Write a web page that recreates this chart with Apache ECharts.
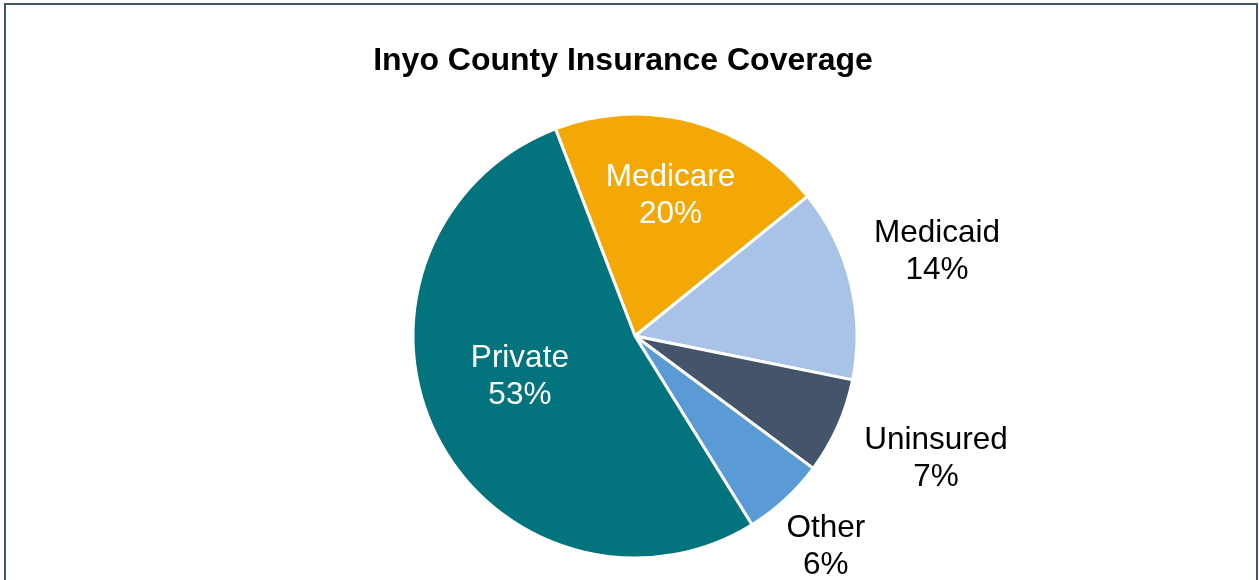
<!DOCTYPE html>
<html>
<head>
<meta charset="utf-8">
<script src="https://cdn.jsdelivr.net/npm/echarts@6/dist/echarts.min.js"></script>
<style>
html,body{margin:0;padding:0;background:#fff;}
#chart{width:1259px;height:580px;}
</style>
</head>
<body>
<div id="chart"></div>
<script>
const titleText = 'Inyo County Insurance Coverage';
const categories = ['Medicare', 'Medicaid', 'Uninsured', 'Other', 'Private'];
const values = [20, 14, 7, 6, 53];
const colors = ['#F4A806', '#A9C2E7', '#44546A', '#5B9BD5', '#03747D'];
const insideLabels = ['Medicare', 'Private'];

const labelShift = {
  Medicare: [6, -30],
  Private: [-13, -10],
  Medicaid: [62, -26],
  Uninsured: [75, 24],
  Other: [22, 33]
};

const chart = echarts.init(document.getElementById('chart'));
const data = categories.map((c, i) => {
  const inside = insideLabels.includes(c);
  return {
    name: c,
    value: values[i],
    itemStyle: { color: colors[i] },
    label: {
      position: inside ? 'inside' : 'outside',
      color: inside ? '#ffffff' : '#000000'
    }
  };
});

chart.setOption({
  animation: false,
  graphic: [{
    type: 'rect',
    shape: { x: 5, y: 4, width: 1252, height: 600 },
    style: { fill: 'none', stroke: '#44546A', lineWidth: 2 }
  }],
  title: {
    text: titleText,
    left: 618,
    textAlign: 'center',
    top: 40,
    textStyle: { fontFamily: 'Liberation Sans', fontWeight: 'bold', fontSize: 32, color: '#000' }
  },
  series: [{
    type: 'pie',
    center: [635, 336],
    radius: 222,
    startAngle: 111,
    clockwise: true,
    data: data,
    itemStyle: { borderColor: '#ffffff', borderWidth: 3 },
    label: {
      show: true,
      fontFamily: 'Liberation Sans',
      fontSize: 31.5,
      lineHeight: 37,
      align: 'center',
      formatter: p => p.name + '\n' + p.value + '%'
    },
    labelLine: { show: false, length: 20, length2: 0 },
    labelLayout: p => {
      const s = labelShift[categories[p.dataIndex]];
      return { dx: s[0], dy: s[1], align: 'center' };
    }
  }]
});
</script>
</body>
</html>
